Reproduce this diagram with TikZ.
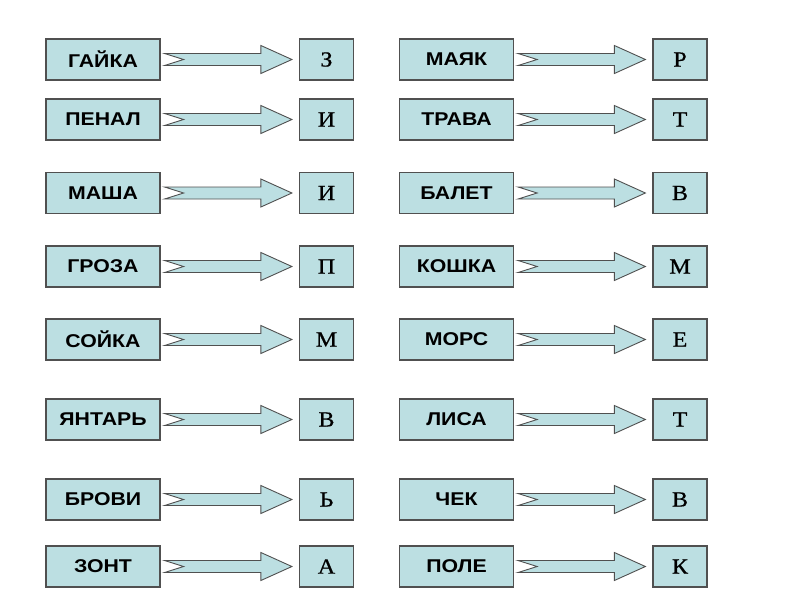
\documentclass[tikz,border=0pt]{standalone}
\usepackage{fontspec}
\setmainfont{Liberation Sans}
\newfontfamily\wordf[FakeStretch=1.15]{Liberation Sans}
\newfontfamily\letf[FakeStretch=1.12,FakeBold=0.6]{Liberation Serif}
\usetikzlibrary{calc}
\definecolor{boxfill}{HTML}{BCDFE2}
\definecolor{boxedge}{HTML}{505050}
\tikzset{
  wordbox/.style={draw=boxedge, line width=1.2pt, fill=boxfill, minimum width=114pt, minimum height=41pt, inner sep=0pt, font=\wordf\fontsize{18.5}{18.5}\selectfont\bfseries},
  letterbox/.style={draw=boxedge, line width=1.2pt, fill=boxfill, minimum width=54pt, minimum height=41pt, inner sep=0pt, font=\letf\fontsize{21.5}{21.5}\selectfont},
  arr/.style={draw=boxedge, line width=0.9pt, fill=boxfill, line join=miter}
}
\newcommand\fatarrow[2]{%
  \path[arr] let \p1=($(#1.east)+(4pt,0)$), \p2=($(#2.west)+(-7pt,0)$) in
    (\x1,\y1+6pt) -- (\x2-31pt,\y1+6pt) -- (\x2-31pt,\y1+14pt) -- (\x2,\y1)
    -- (\x2-31pt,\y1-14pt) -- (\x2-31pt,\y1-6pt) -- (\x1,\y1-6pt) -- (\x1+19pt,\y1) -- cycle;}
\begin{document}
\begin{tikzpicture}[x=1pt,y=-1pt]
\useasboundingbox (0,0) rectangle (800,600);
\foreach \i/\y/\wa/\la/\wb/\lb in {
  1/59.5/ГАЙКА/З/МАЯК/Р,
  2/119.5/ПЕНАЛ/И/ТРАВА/Т,
  3/193/МАША/И/БАЛЕТ/В,
  4/266.5/ГРОЗА/П/КОШКА/М,
  5/339.5/СОЙКА/М/МОРС/Е,
  6/419.5/ЯНТАРЬ/В/ЛИСА/Т,
  7/499.5/БРОВИ/Ь/ЧЕК/В,
  8/566.5/ЗОНТ/А/ПОЛЕ/К}{
  \node[wordbox] (wl\i) at (103,\y) {\wa};
  \node[letterbox] (ll\i) at (326.5,\y) {\la};
  \node[wordbox] (wr\i) at (456.5,\y) {\wb};
  \node[letterbox] (lr\i) at (680,\y) {\lb};
  \fatarrow{wl\i}{ll\i}
  \fatarrow{wr\i}{lr\i}
}
\end{tikzpicture}
\end{document}
